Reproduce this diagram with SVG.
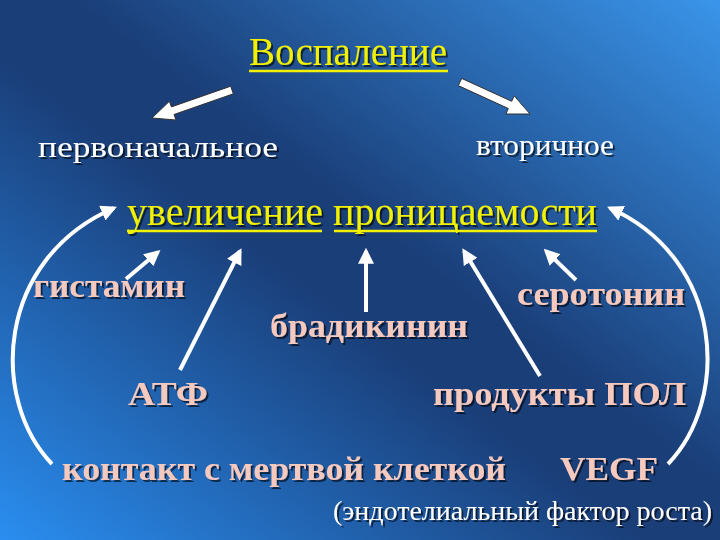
<svg xmlns="http://www.w3.org/2000/svg" width="720" height="540" viewBox="0 0 720 540">
<defs>
<linearGradient id="bg" x1="1" y1="0" x2="0" y2="1">
<stop offset="0" stop-color="#3a95ea"/>
<stop offset="0.45" stop-color="#1a3e78"/>
<stop offset="0.55" stop-color="#1a3e78"/>
<stop offset="1" stop-color="#2a8ef0"/>
</linearGradient>
<marker id="ah" viewBox="0 0 10 10" refX="8" refY="5" markerWidth="4" markerHeight="4" orient="auto"><path d="M0,0 L10,5 L0,10 Z" fill="#fff"/></marker>
<filter id="sh"><feDropShadow dx="2" dy="2" stdDeviation="0.6" flood-color="#000" flood-opacity="0.6"/></filter>
</defs>
<style>
text{font-family:"Liberation Serif","Times New Roman",serif;filter:url(#sh)}
.y{fill:#f2f200;font-size:40px}
.w{fill:#ffffff;font-size:30px}
.p{fill:#f6c9bf;font-size:34px;font-weight:bold}
.ln{stroke:#fff;stroke-width:4;fill:none;marker-end:url(#ah)}
.ul{stroke:#f2f200;stroke-width:2.5}
.ba{fill:#fff;stroke:#333;stroke-width:1}
</style>
<rect width="720" height="540" fill="url(#bg)"/>
<g id="connectors">
<polygon class="ba" points="230.7,86.2 171.4,106.9 169.4,101.3 152,118 176,120 174,114.5 233.3,93.8"/>
<polygon class="ba" points="461.7,78.4 511.7,101.3 514.2,95.8 530,114 505.9,114 508.3,108.5 458.3,85.6"/>
<line class="ln" x1="126" y1="279" x2="158" y2="252"/>
<line class="ln" x1="180" y1="370" x2="240" y2="251"/>
<line class="ln" x1="366" y1="312" x2="366" y2="251"/>
<line class="ln" x1="540" y1="376" x2="464" y2="251"/>
<line class="ln" x1="576" y1="280" x2="546" y2="251"/>
<path class="ln" d="M52,464 C-10,400 -5,260 114,208"/>
<path class="ln" d="M668,464 C730,400 725,260 610,208"/>
</g>
<g id="title"><text class="y" x="348" y="65" text-anchor="middle" textLength="198" lengthAdjust="spacingAndGlyphs">Воспаление</text><line class="ul" x1="249" y1="71" x2="448" y2="71"/></g>
<g id="primary"><text class="w" x="38" y="157" textLength="240" lengthAdjust="spacingAndGlyphs">первоначальное</text></g>
<g id="secondary"><text class="w" x="476" y="155" textLength="138" lengthAdjust="spacingAndGlyphs">вторичное</text></g>
<g id="permeability"><text class="y" x="127" y="225" textLength="470" lengthAdjust="spacingAndGlyphs">увеличение проницаемости</text><line class="ul" x1="127" y1="231" x2="322" y2="231"/><line class="ul" x1="334" y1="231" x2="597" y2="231"/></g>
<g id="histamine"><text class="p" x="33" y="297" textLength="152" lengthAdjust="spacingAndGlyphs">гистамин</text></g>
<g id="serotonin"><text class="p" x="517" y="305" textLength="168" lengthAdjust="spacingAndGlyphs">серотонин</text></g>
<g id="bradykinin"><text class="p" x="270" y="337" textLength="198" lengthAdjust="spacingAndGlyphs">брадикинин</text></g>
<g id="atp"><text class="p" x="128" y="405" textLength="80" lengthAdjust="spacingAndGlyphs">АТФ</text></g>
<g id="pol"><text class="p" x="433" y="405" textLength="253" lengthAdjust="spacingAndGlyphs">продукты ПОЛ</text></g>
<g id="contact"><text class="p" x="62" y="480" textLength="444" lengthAdjust="spacingAndGlyphs">контакт с мертвой клеткой</text></g>
<g id="vegf"><text class="p" x="560" y="480" textLength="98" lengthAdjust="spacingAndGlyphs">VEGF</text><text class="w" x="333" y="520" style="font-size:27px" textLength="379" lengthAdjust="spacingAndGlyphs">(эндотелиальный фактор роста)</text></g>
</svg>
